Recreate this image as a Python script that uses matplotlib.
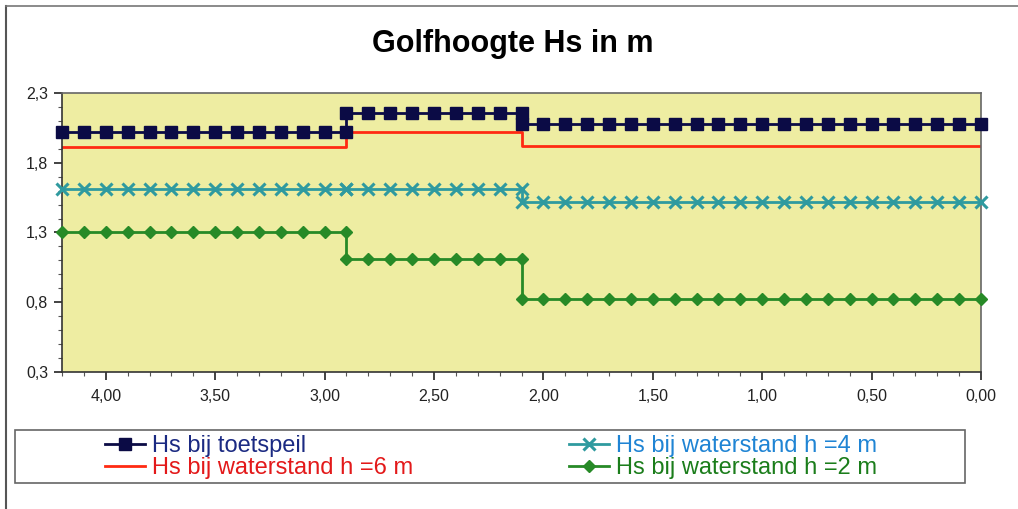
import matplotlib
matplotlib.use("Agg")
import matplotlib.pyplot as plt
from matplotlib.ticker import FuncFormatter, MultipleLocator
from matplotlib.patches import Rectangle
from matplotlib.lines import Line2D

plt.rcParams['font.family'] = ['Liberation Sans', 'DejaVu Sans']

# stations (m), every 0.1 from 4.2 down to 0.0, with repeated x at the jumps
x_seg1 = [4.2, 4.1, 4.0, 3.9, 3.8, 3.7, 3.6, 3.5, 3.4, 3.3, 3.2, 3.1, 3.0, 2.9]
x_seg2 = [2.9, 2.8, 2.7, 2.6, 2.5, 2.4, 2.3, 2.2, 2.1]
x_seg3 = [2.1, 2.0, 1.9, 1.8, 1.7, 1.6, 1.5, 1.4, 1.3, 1.2, 1.1, 1.0,
          0.9, 0.8, 0.7, 0.6, 0.5, 0.4, 0.3, 0.2, 0.1, 0.0]

# level of each series on the three stretches
hs_toetspeil = [2.02, 2.16, 2.08]
hs_h6 = [1.91, 2.02, 1.92]
hs_h4 = [1.61, 1.61, 1.52]
hs_h2 = [1.30, 1.11, 0.82]

labels = ["Hs bij toetspeil", "Hs bij waterstand h =6 m",
          "Hs bij waterstand h =4 m", "Hs bij waterstand h =2 m"]


def build(levels):
    xs, ys = [], []
    for seg, lev in zip([x_seg1, x_seg2, x_seg3], levels):
        xs += seg
        ys += [lev] * len(seg)
    return xs, ys


fig = plt.figure(figsize=(10.18, 5.09), dpi=100)
fig.patch.set_facecolor("white")
ax = fig.add_axes([62 / 1018, 1 - 372 / 509, 919 / 1018, 279 / 509])
ax.set_facecolor("#eeeda2")

navy = "#0b0b45"
red = "#ff2a12"
teal = "#2f9a9f"
green = "#278a27"

x, y = build(hs_h6)
ax.plot(x, y, color=red, lw=2, zorder=2)
x, y = build(hs_h4)
ax.plot(x, y, color=teal, lw=2, marker="x", ms=8, mew=2.2, clip_on=False, zorder=3)
x, y = build(hs_h2)
ax.plot(x, y, color=green, lw=2, marker="D", ms=6.5, clip_on=False, zorder=3)
x, y = build(hs_toetspeil)
ax.plot(x, y, color=navy, lw=2, marker="s", ms=8.5, clip_on=False, zorder=4)

ax.set_xlim(4.2, 0.0)
ax.set_ylim(0.3, 2.3)
ax.xaxis.set_major_locator(MultipleLocator(0.5))
ax.xaxis.set_minor_locator(MultipleLocator(0.1))
ax.yaxis.set_minor_locator(MultipleLocator(0.1))
ax.set_yticks([0.3, 0.8, 1.3, 1.8, 2.3])
ax.xaxis.set_major_formatter(FuncFormatter(lambda v, p: f"{v:.2f}".replace(".", ",")))
ax.yaxis.set_major_formatter(FuncFormatter(lambda v, p: f"{v:.1f}".replace(".", ",")))
ax.tick_params(which="major", direction="out", length=6, width=1.2, labelsize=11.5, colors="#222222")
ax.tick_params(which="minor", direction="out", length=3, width=0.8, colors="#555555")
ax.tick_params(axis="x", pad=6)
ax.tick_params(axis="y", pad=4)
for s in ax.spines.values():
    s.set_color("#666666")
    s.set_linewidth(1.2)
ax.spines["left"].set_color("#333333")
ax.spines["bottom"].set_color("#333333")

fig.text(513 / 1018, 1 - 44 / 509, "Golfhoogte Hs in m", ha="center", va="center",
         fontsize=22, fontweight="bold")

# legend
handles = [
    Line2D([], [], color=navy, lw=2, marker="s", ms=8.5),
    Line2D([], [], color=red, lw=2),
    Line2D([], [], color=teal, lw=2, marker="x", ms=8, mew=2.2),
    Line2D([], [], color=green, lw=2, marker="D", ms=6.5),
]
leg = fig.legend(handles, labels, ncol=2, loc="center",
                 bbox_to_anchor=(491 / 1018, 1 - 457 / 509), frameon=False,
                 fontsize=17, handlelength=1.7, handletextpad=0.3,
                 columnspacing=6.6, labelspacing=-0.02)
text_colors = ["#1b2a82", "#e3191a", "#1f84d4", "#1b7d1b"]
for t, c in zip(leg.get_texts(), text_colors):
    t.set_color(c)

fig.add_artist(Rectangle((15 / 1018, 1 - 483 / 509), 950 / 1018, 53 / 509,
                         transform=fig.transFigure, fill=False,
                         edgecolor="#666666", lw=1.2))
# outer scan frame (left and top)
fig.add_artist(Line2D([6 / 1018, 6 / 1018], [0, 1 - 6 / 509], transform=fig.transFigure,
                      color="#555555", lw=1.5))
fig.add_artist(Line2D([6 / 1018, 1], [1 - 6 / 509, 1 - 6 / 509], transform=fig.transFigure,
                      color="#777777", lw=1.2))

fig.savefig("out.png", dpi=100)
